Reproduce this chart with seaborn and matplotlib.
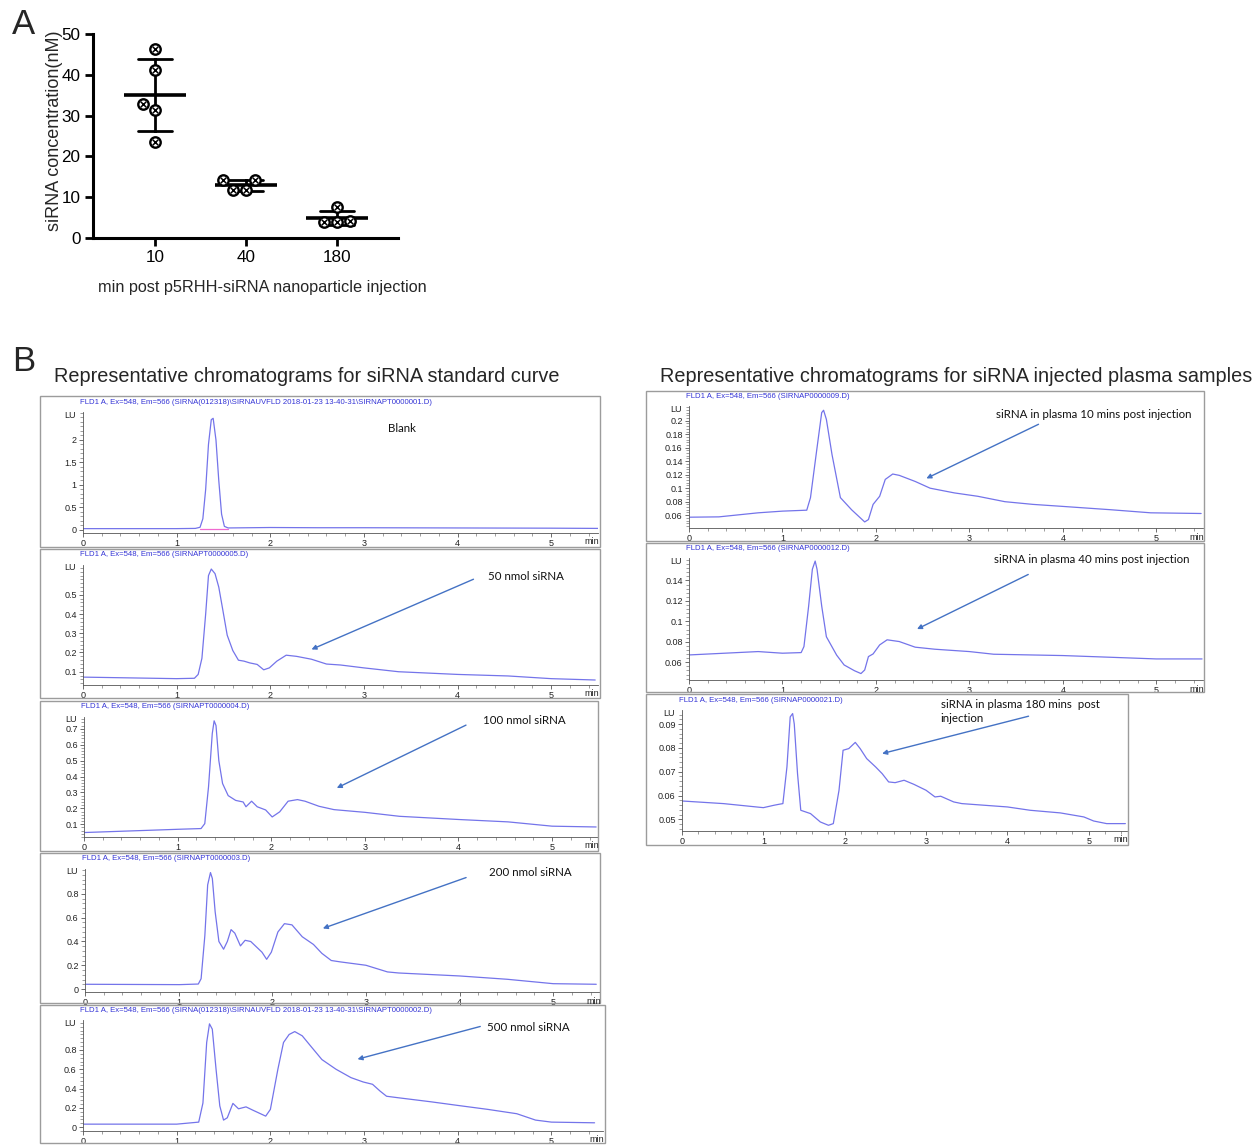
import pandas as pd
import seaborn as sns
import matplotlib
matplotlib.use("Agg")
from matplotlib import pyplot as plt
from matplotlib.patches import Rectangle
from matplotlib.ticker import AutoMinorLocator, FuncFormatter

W, H = 1260, 1145

# ---- panel A: siRNA concentration after injection
time_groups = ["10", "40", "180"]
conc_10 = [46.3, 41.2, 32.9, 31.3, 23.5]
conc_40 = [14.1, 14.1, 11.8, 11.8]
conc_180 = [7.6, 4.1, 3.9, 4.0]

# ---- panel B: chromatograms (time in min, signal in LU)
blank_t = [0, 0.5, 1.0, 1.2, 1.25, 1.28, 1.31, 1.34, 1.37, 1.39, 1.42, 1.45, 1.48, 1.51, 1.55, 2.0, 2.5, 3.0, 4.0, 5.0, 5.5]
blank_v = [0.03, 0.03, 0.03, 0.035, 0.06, 0.25, 0.9, 1.9, 2.45, 2.48, 2.0, 1.1, 0.35, 0.08, 0.045, 0.055, 0.05, 0.05, 0.045, 0.04, 0.035]
blank_base_t = [1.25, 1.55]
blank_base_v = [0.02, 0.02]

std_50_t = [0, 1.0, 1.19, 1.23, 1.27, 1.31, 1.34, 1.37, 1.41, 1.45, 1.49, 1.54, 1.60, 1.66, 1.72, 1.78,
            1.86, 1.93, 1.99, 2.07, 2.17, 2.28, 2.44, 2.60, 2.75, 3.0, 3.37, 4.0, 4.54, 5.0, 5.47]
std_50_v = [0.072, 0.064, 0.066, 0.086, 0.17, 0.40, 0.60, 0.634, 0.61, 0.54, 0.43, 0.29, 0.21, 0.16, 0.155, 0.146,
            0.138, 0.11, 0.12, 0.155, 0.186, 0.18, 0.165, 0.14, 0.135, 0.12, 0.10, 0.086, 0.078, 0.064, 0.057]

std_100_t = [0, 1.03, 1.25, 1.29, 1.33, 1.37, 1.39, 1.41, 1.44, 1.48, 1.54, 1.62, 1.70, 1.73, 1.79,
             1.85, 1.94, 2.01, 2.09, 2.18, 2.28, 2.36, 2.51, 2.67, 3.0, 3.37, 4.0, 4.53, 5.0, 5.47]
std_100_v = [0.048, 0.069, 0.073, 0.104, 0.335, 0.67, 0.75, 0.72, 0.50, 0.356, 0.28, 0.25, 0.24, 0.21, 0.245,
             0.21, 0.19, 0.146, 0.178, 0.245, 0.255, 0.245, 0.213, 0.192, 0.175, 0.15, 0.13, 0.115, 0.088, 0.083]

std_200_t = [0, 1.01, 1.21, 1.24, 1.28, 1.31, 1.34, 1.36, 1.39, 1.43, 1.48, 1.52, 1.56, 1.60, 1.66, 1.71, 1.77, 1.83,
             1.89, 1.94, 1.99, 2.06, 2.13, 2.21, 2.32, 2.44, 2.53, 2.63, 2.73, 3.0, 3.23, 3.35, 4.0, 4.51, 5.0, 5.46]
std_200_v = [0.04, 0.037, 0.042, 0.087, 0.45, 0.876, 0.98, 0.93, 0.65, 0.40, 0.335, 0.40, 0.50, 0.47, 0.363, 0.41, 0.40, 0.355,
             0.31, 0.25, 0.31, 0.48, 0.55, 0.54, 0.44, 0.375, 0.30, 0.24, 0.228, 0.20, 0.144, 0.135, 0.11, 0.082, 0.045, 0.04]

std_500_t = [0, 1.0, 1.235, 1.28, 1.32, 1.35, 1.38, 1.42, 1.46, 1.50, 1.54, 1.60, 1.66, 1.74, 1.81, 1.95, 2.0, 2.08, 2.14,
             2.20, 2.26, 2.34, 2.43, 2.55, 2.70, 2.86, 2.99, 3.09, 3.17, 3.24, 3.36, 3.71, 4.0, 4.32, 4.63, 4.83, 5.0, 5.46]
std_500_v = [0.031, 0.031, 0.052, 0.25, 0.877, 1.07, 1.015, 0.60, 0.22, 0.073, 0.097, 0.246, 0.19, 0.21, 0.177, 0.114, 0.184, 0.60, 0.877,
             0.96, 0.99, 0.946, 0.84, 0.70, 0.60, 0.513, 0.468, 0.444, 0.374, 0.32, 0.305, 0.263, 0.225, 0.184, 0.139, 0.073, 0.052, 0.045]

plasma_10_t = [0, 0.32, 0.74, 1.0, 1.26, 1.30, 1.37, 1.42, 1.44, 1.47, 1.53, 1.62, 1.74, 1.88, 1.92,
               1.97, 2.04, 2.10, 2.18, 2.25, 2.42, 2.58, 2.84, 3.09, 3.38, 3.68, 4.0, 4.52, 4.94, 5.48]
plasma_10_v = [0.057, 0.0575, 0.0635, 0.066, 0.0674, 0.086, 0.16, 0.212, 0.2155, 0.202, 0.15, 0.086, 0.068, 0.050, 0.0535,
               0.076, 0.088, 0.113, 0.121, 0.119, 0.11, 0.10, 0.093, 0.088, 0.080, 0.076, 0.073, 0.068, 0.0635, 0.0625]

plasma_40_t = [0, 0.74, 1.0, 1.2, 1.23, 1.28, 1.32, 1.35, 1.37, 1.42, 1.47, 1.58, 1.66, 1.77, 1.84,
               1.88, 1.92, 1.97, 2.04, 2.12, 2.25, 2.42, 2.63, 3.0, 3.26, 4.0, 4.52, 5.0, 5.49]
plasma_40_v = [0.0672, 0.0705, 0.0689, 0.0695, 0.0754, 0.1148, 0.151, 0.159, 0.151, 0.115, 0.085, 0.067, 0.0574, 0.0518, 0.049,
               0.0525, 0.0656, 0.0682, 0.077, 0.082, 0.0803, 0.0748, 0.0728, 0.0705, 0.0679, 0.0666, 0.0649, 0.0633, 0.0633]

plasma_180_t = [0, 0.51, 1.0, 1.13, 1.19, 1.24, 1.29, 1.33, 1.36, 1.38, 1.42, 1.46, 1.58, 1.70, 1.80, 1.86, 1.93, 1.98, 2.05, 2.13,
                2.19, 2.27, 2.38, 2.46, 2.54, 2.62, 2.73, 2.85, 3.0, 3.11, 3.18, 3.34, 3.44, 4.0, 4.28, 4.65, 4.94, 5.06, 5.22, 5.45]
plasma_180_v = [0.0577, 0.0566, 0.0549, 0.0559, 0.0563, 0.0566, 0.072, 0.093, 0.0944, 0.090, 0.0692, 0.0538, 0.0524, 0.0489, 0.0475, 0.0482, 0.0622, 0.079, 0.0797, 0.0823,
                0.0797, 0.0755, 0.072, 0.0692, 0.0657, 0.0654, 0.0664, 0.0647, 0.0622, 0.0594, 0.0597, 0.0573, 0.0566, 0.0552, 0.0538, 0.0527, 0.051, 0.0493, 0.0482, 0.0482]

TRACE = "#7474ea"
ARROW = "#4472c4"
HEADER = "#3434d6"
FRAME = "#9c9c9c"


def px_rect(l, t, r, b):
    return [l / W, 1 - b / H, (r - l) / W, (b - t) / H]


sns.set_style("ticks")
plt.rcParams["font.family"] = ["Liberation Sans", "DejaVu Sans"]

fig = plt.figure(figsize=(W / 100, H / 100), dpi=100)

# ================= panel A =================
dfA = pd.DataFrame({
    "time": ["10"] * len(conc_10) + ["40"] * len(conc_40) + ["180"] * len(conc_180),
    "conc": conc_10 + conc_40 + conc_180,
})

axA = fig.add_axes(px_rect(93, 34, 398, 238))
sns.swarmplot(data=dfA, x="time", y="conc", order=time_groups, ax=axA, color="white",
              edgecolor="black", linewidth=1.7, size=7.5, zorder=3)
sns.pointplot(data=dfA, x="time", y="conc", order=time_groups, ax=axA, errorbar="sd",
              capsize=0.38, color="black", linestyle="none", marker="_", markersize=44,
              markeredgewidth=2.6, err_kws={"linewidth": 2.0}, zorder=2)
axA.set_xlim(-0.681, 2.670)
axA.set_ylim(0, 50)
axA.set_yticks([0, 10, 20, 30, 40, 50])
for s in ["top", "right"]:
    axA.spines[s].set_visible(False)
for s in ["left", "bottom"]:
    axA.spines[s].set_linewidth(2.2)
    axA.spines[s].set_color("black")
axA.tick_params(width=2.0, length=6, labelsize=12.3, colors="black", pad=3)
axA.set_ylabel("siRNA concentration(nM)", fontsize=13)
axA.yaxis.set_label_coords(-0.098, 0.525)
axA.set_xlabel("min post p5RHH-siRNA nanoparticle injection", fontsize=11.7)
axA.xaxis.set_label_coords(0.554, -0.205)

# cross inside every swarm marker (positions settle on draw)
fig.canvas.draw()
for coll in list(axA.collections):
    xy = coll.get_offsets()
    axA.scatter(xy[:, 0], xy[:, 1], marker="x", s=16, color="black", linewidth=1.1, zorder=4)

fig.text(12 / W, 1 - 8 / H, "A", fontsize=25, va="top", ha="left")
fig.text(12 / W, 1 - 345 / H, "B", fontsize=25, va="top", ha="left")

fig.text(54 / W, 1 - 377 / H, "Representative chromatograms for siRNA standard curve",
         fontsize=14.3, va="center", ha="left")
fig.text(660 / W, 1 - 376 / H, "Representative chromatograms for siRNA injected plasma samples",
         fontsize=14.3, va="center", ha="left")

# ================= panel B =================
panels = [
    dict(t=blank_t, v=blank_v, frame=(40, 396, 600, 547), box=(83, 412, 598, 533), xmax=5.5,
         ylim=(-0.067, 2.62), yticks=[0, 0.5, 1, 1.5, 2],
         header=r"FLD1 A, Ex=548, Em=566 (SIRNA(012318)\SIRNAUVFLD 2018-01-23 13-40-31\SIRNAPT0000001.D)",
         label="Blank", text_at=(3.26, 2.25), arrow=None),
    dict(t=std_50_t, v=std_50_v, frame=(40, 549, 600, 698), box=(83, 565, 598, 685), xmax=5.5,
         ylim=(0.031, 0.655), yticks=[0.1, 0.2, 0.3, 0.4, 0.5],
         header="FLD1 A, Ex=548, Em=566 (SIRNAPT0000005.D)",
         label="50 nmol siRNA", text_at=(4.33, 0.595), arrow=((4.17, 0.581), (2.44, 0.216))),
    dict(t=std_100_t, v=std_100_v, frame=(40, 701, 598, 851), box=(84, 717, 598, 837), xmax=5.49,
         ylim=(0.02, 0.774), yticks=[0.1, 0.2, 0.3, 0.4, 0.5, 0.6, 0.7],
         header="FLD1 A, Ex=548, Em=566 (SIRNAPT0000004.D)",
         label="100 nmol siRNA", text_at=(4.26, 0.754), arrow=((4.08, 0.723), (2.70, 0.328))),
    dict(t=std_200_t, v=std_200_v, frame=(40, 853, 600, 1003), box=(85, 869, 600, 992), xmax=5.5,
         ylim=(-0.025, 1.01), yticks=[0, 0.2, 0.4, 0.6, 0.8],
         header="FLD1 A, Ex=548, Em=566 (SIRNAPT0000003.D)",
         label="200 nmol siRNA", text_at=(4.31, 0.983), arrow=((4.07, 0.938), (2.54, 0.51))),
    dict(t=std_500_t, v=std_500_v, frame=(40, 1005, 605, 1143), box=(83, 1020, 603, 1131), xmax=5.55,
         ylim=(-0.04, 1.11), yticks=[0, 0.2, 0.4, 0.6, 0.8],
         header=r"FLD1 A, Ex=548, Em=566 (SIRNA(012318)\SIRNAUVFLD 2018-01-23 13-40-31\SIRNAPT0000002.D)",
         label="500 nmol siRNA", text_at=(4.31, 1.033), arrow=((4.24, 1.043), (2.93, 0.704))),
    dict(t=plasma_10_t, v=plasma_10_v, frame=(646, 391, 1204, 541), box=(689, 406, 1203, 528), xmax=5.5,
         ylim=(0.041, 0.2218), yticks=[0.06, 0.08, 0.1, 0.12, 0.14, 0.16, 0.18, 0.2],
         header="FLD1 A, Ex=548, Em=566 (SIRNAP0000009.D)",
         label="siRNA in plasma 10 mins post injection", text_at=(3.28, 0.2085),
         arrow=((3.74, 0.1947), (2.54, 0.1145))),
    dict(t=plasma_40_t, v=plasma_40_v, frame=(646, 543, 1204, 692), box=(689, 558, 1203, 680), xmax=5.5,
         ylim=(0.0427, 0.162), yticks=[0.06, 0.08, 0.1, 0.12, 0.14],
         header="FLD1 A, Ex=548, Em=566 (SIRNAP0000012.D)",
         label="siRNA in plasma 40 mins post injection", text_at=(3.26, 0.1607),
         arrow=((3.63, 0.1459), (2.44, 0.0925))),
    dict(t=plasma_180_t, v=plasma_180_v, frame=(646, 694, 1128, 845), box=(682, 710, 1127, 831), xmax=5.47,
         ylim=(0.0451, 0.0959), yticks=[0.05, 0.06, 0.07, 0.08, 0.09],
         header="FLD1 A, Ex=548, Em=566 (SIRNAP0000021.D)",
         label="siRNA in plasma 180 mins  post\ninjection", text_at=(3.18, 0.0954),
         arrow=((4.26, 0.0933), (2.46, 0.0776))),
]

fmt = FuncFormatter(lambda y, _: f"{y:g}")

for i, p in enumerate(panels):
    fl, ft, fr, fb = p["frame"]
    fig.patches.append(Rectangle((fl / W, 1 - fb / H), (fr - fl) / W, (fb - ft) / H,
                                 transform=fig.transFigure, fill=False, edgecolor=FRAME, linewidth=1.0))
    l, t, r, b = p["box"]
    ax = fig.add_axes(px_rect(l, t, r, b))
    sns.lineplot(x=p["t"], y=p["v"], ax=ax, color=TRACE, linewidth=0.9)
    if i == 0:
        sns.lineplot(x=blank_base_t, y=blank_base_v, ax=ax, color="#f06ad0", linewidth=0.9)
    ax.set_xlim(0, p["xmax"])
    ax.set_ylim(*p["ylim"])
    ax.set_xticks([0, 1, 2, 3, 4, 5])
    ax.xaxis.set_minor_locator(AutoMinorLocator(5))
    ax.set_yticks(p["yticks"])
    ax.yaxis.set_minor_locator(AutoMinorLocator(5))
    ax.yaxis.set_major_formatter(fmt)
    for s in ["top", "right"]:
        ax.spines[s].set_visible(False)
    for s in ["left", "bottom"]:
        ax.spines[s].set_linewidth(0.6)
        ax.spines[s].set_color("#555555")
    ax.tick_params(which="major", length=3, width=0.6, labelsize=6.5, pad=1.5, colors="#555555",
                   labelcolor="#222222")
    ax.tick_params(which="minor", length=2, width=0.5, colors="#777777")
    ax.set_xlabel("")
    ax.set_ylabel("")

    fig.text((l - 3) / W, 1 - (ft + 6) / H, p["header"], fontsize=5.6, color=HEADER, va="center", ha="left")
    fig.text((l - 7) / W, 1 - (t + 3) / H, "LU", fontsize=6.5, color="#222222", va="center", ha="right")
    fig.text((r - 6) / W, 1 - (b + 9) / H, "min", fontsize=6.5, color="#222222", va="center", ha="center")

    ax.text(p["text_at"][0], p["text_at"][1], p["label"], fontsize=8.3, family=["Lato", "DejaVu Sans"],
            ha="left", va="center", color="#111111", clip_on=False, linespacing=1.3)
    if p["arrow"] is not None:
        tail, tip = p["arrow"]
        ax.annotate("", xy=tip, xytext=tail, annotation_clip=False,
                    arrowprops=dict(arrowstyle="-|>", color=ARROW, lw=1.0, mutation_scale=7,
                                    shrinkA=0, shrinkB=0))

fig.savefig("out.png", dpi=100)
